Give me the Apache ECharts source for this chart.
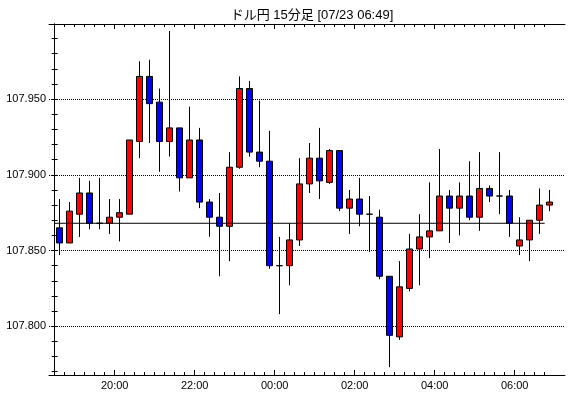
<!DOCTYPE html>
<html>
<head>
<meta charset="utf-8">
<script src="https://cdn.jsdelivr.net/npm/echarts@6/dist/echarts.min.js"></script>
<style>
html, body { margin: 0; padding: 0; background: #fff; }
#myChart { width: 570px; height: 398px; }
</style>
</head>
<body>
<div id="myChart"></div>
<script>
// 15分足の開始時刻
const times = ["18:30","18:45","19:00","19:15","19:30","19:45",
  "20:00","20:15","20:30","20:45","21:00","21:15","21:30","21:45",
  "22:00","22:15","22:30","22:45","23:00","23:15","23:30","23:45",
  "00:00","00:15","00:30","00:45","01:00","01:15","01:30","01:45",
  "02:00","02:15","02:30","02:45","03:00","03:15","03:30","03:45",
  "04:00","04:15","04:30","04:45","05:00","05:15","05:30","05:45",
  "06:00","06:15","06:30","06:45"];

const open = [107.865,107.855,107.874,107.888,107.868,107.868,107.872,107.874,107.922,107.965,
  107.948,107.922,107.931,107.898,107.923,107.882,107.872,107.866,107.905,107.957,
  107.915,107.909,107.840,107.840,107.857,107.894,107.911,107.895,107.916,107.878,
  107.884,107.874,107.872,107.833,107.793,107.825,107.851,107.859,107.863,107.886,
  107.878,107.886,107.872,107.891,107.886,107.886,107.853,107.857,107.870,107.880];
const close = [107.855,107.876,107.888,107.868,107.868,107.872,107.875,107.923,107.965,107.947,
  107.922,107.931,107.898,107.923,107.882,107.872,107.866,107.905,107.957,107.915,
  107.909,107.840,107.840,107.857,107.894,107.911,107.896,107.916,107.878,107.884,
  107.874,107.874,107.833,107.794,107.826,107.851,107.859,107.863,107.886,107.878,
  107.886,107.872,107.891,107.886,107.886,107.868,107.857,107.870,107.880,107.882];
const low = [107.847,107.855,107.859,107.864,107.864,107.861,107.856,107.874,107.911,107.921,
  107.902,107.912,107.889,107.898,107.878,107.859,107.833,107.843,107.904,107.912,
  107.905,107.838,107.808,107.827,107.853,107.888,107.884,107.894,107.876,107.861,
  107.866,107.849,107.831,107.773,107.791,107.823,107.827,107.845,107.863,107.855,
  107.860,107.870,107.863,107.882,107.874,107.859,107.847,107.843,107.861,107.876];
const high = [107.884,107.882,107.898,107.896,107.898,107.884,107.884,107.923,107.975,107.976,
  107.957,107.995,107.931,107.945,107.931,107.884,107.888,107.915,107.965,107.962,
  107.949,107.929,107.859,107.868,107.911,107.921,107.931,107.917,107.916,107.890,
  107.898,107.886,107.877,107.833,107.843,107.861,107.874,107.895,107.917,107.890,
  107.895,107.909,107.915,107.893,107.915,107.890,107.872,107.870,107.891,107.890];

// 基準線
const refPrice = 107.868;

// 目盛り
const xLabels = ["20:00","22:00","00:00","02:00","04:00","06:00"];
const yLabels = [107.80, 107.85, 107.90, 107.95];
const yMinorTicks = [107.77,107.78,107.79,107.80,107.81,107.82,107.83,107.84,107.85,107.86,107.87,
  107.88,107.89,107.90,107.91,107.92,107.93,107.94,107.95,107.96,107.97,107.98,107.99];
const yMin = 107.7678;
const yMax = 107.9996;

// 分単位 (18:30 = 0)
const step = 15;
const xMin = -8.5;
const xMax = 765.5;
const xBounds = times.map((t, i) => i * step);
const xLabelPos = xLabels.map(l => times.indexOf(l) * step);

const candles = times.map((t, i) => [i * step + step / 2, open[i], close[i], low[i], high[i]]);
const refData = [[xBounds[0], refPrice], [xBounds[xBounds.length - 1], refPrice]];

const font = '"Liberation Sans", "Noto Sans CJK JP", sans-serif';
const black = "#000";

function xAxisOf(position, ticks, len, withLabel) {
  return {
    type: "value",
    position: position,
    min: xMin,
    max: xMax,
    axisLine: { show: withLabel, lineStyle: { color: black, width: 1 } },
    axisTick: { show: true, inside: true, length: len, customValues: ticks, lineStyle: { color: black } },
    axisLabel: {
      show: withLabel && position === "bottom",
      customValues: xLabelPos,
      formatter: v => xLabels[xLabelPos.indexOf(v)],
      color: black,
      fontSize: 11,
      fontFamily: font,
      margin: 5
    },
    splitLine: { show: false }
  };
}

function yAxisOf(position, ticks, showLine) {
  return {
    type: "value",
    position: position,
    min: yMin,
    max: yMax,
    axisLine: { show: showLine, lineStyle: { color: black, width: 1 } },
    axisTick: { show: true, inside: true, length: 3, customValues: ticks, lineStyle: { color: black } },
    axisLabel: { show: false },
    splitLine: { show: false }
  };
}

const myChart = echarts.init(document.getElementById("myChart"));
myChart.setOption({
  animation: false,
  backgroundColor: "#fff",
  title: {
    text: "ドル円 15分足 [07/23 06:49]",
    left: 307,
    top: 4,
    textAlign: "center",
    textStyle: { fontSize: 13, fontWeight: "normal", color: black, fontFamily: font }
  },
  grid: {
    left: 49,
    top: 24,
    width: 516,
    height: 351,
    outerBoundsMode: "none"
  },
  xAxis: [
    xAxisOf("bottom", xLabelPos, 5, true),
    xAxisOf("bottom", xBounds, 3, false),
    xAxisOf("top", xLabelPos, 5, true),
    xAxisOf("top", xBounds, 3, false)
  ],
  yAxis: [
    {
      type: "value",
      position: "left",
      min: yMin,
      max: yMax,
      axisLine: { show: true, lineStyle: { color: black, width: 1 } },
      axisTick: { show: false, customValues: yLabels },
      axisLabel: {
        customValues: yLabels,
        formatter: v => v.toFixed(3),
        color: black,
        fontSize: 11,
        fontFamily: font,
        margin: 3
      },
      splitLine: { show: true, lineStyle: { color: black, width: 1, type: [1, 1] } }
    },
    yAxisOf("left", yMinorTicks, false),
    yAxisOf("right", yMinorTicks, true)
  ],
  series: [
    {
      type: "candlestick",
      xAxisIndex: 0,
      yAxisIndex: 0,
      data: candles,
      encode: { x: 0, y: [1, 2, 3, 4] },
      barWidth: 6,
      itemStyle: {
        color: "#ff0000",
        color0: "#0000ff",
        borderColor: black,
        borderColor0: black,
        borderColorDoji: black,
        borderWidth: 1
      }
    },
    {
      type: "line",
      xAxisIndex: 0,
      yAxisIndex: 0,
      data: refData,
      symbol: "none",
      silent: true,
      z: 5,
      lineStyle: { color: black, width: 1 }
    }
  ]
});
</script>
</body>
</html>
